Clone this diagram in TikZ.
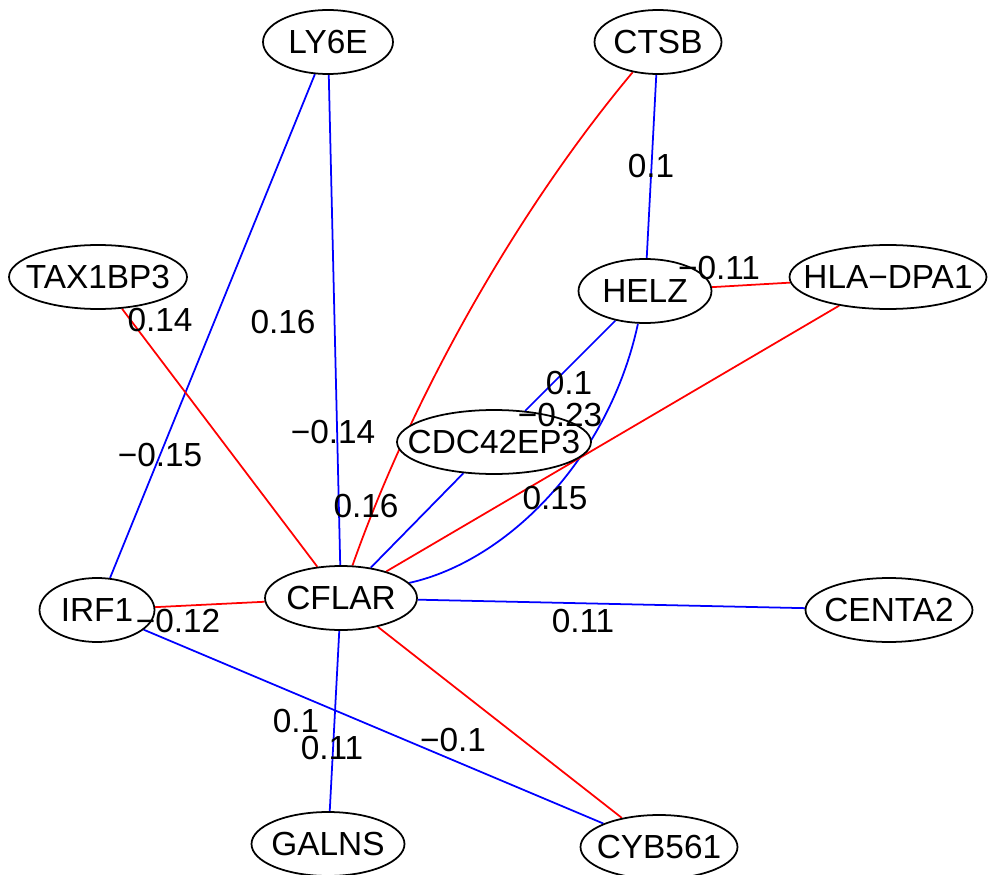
\documentclass[tikz,border=0pt]{standalone}
\usepackage{fontspec}
\setmainfont{Liberation Sans}
\usetikzlibrary{shapes.geometric}
\pgfdeclarelayer{edges}
\pgfsetlayers{edges,main}
\newcommand{\gname}[1]{\makebox[0pt]{#1}}

\begin{document}
\begin{tikzpicture}[
    x=0.02cm, y=-0.02cm,
    gene/.style = {
        ellipse,
        draw,
        fill = white,
        line width = 1pt,
        inner sep = 0pt,
        minimum height = 1.28cm,
        font = \fontsize{19}{23}\selectfont
    },
    wt/.style = {
        inner sep = 0pt,
        font = \fontsize{19}{23}\selectfont
    },
    poslink/.style = {draw = blue, line width = 1pt},
    neglink/.style = {draw = red, line width = 1pt}
]
\useasboundingbox (0,0) rectangle (988,875);

% genes
\node[gene, minimum width = 2.6cm]  (LY6E)     at (328,42)  {\gname{LY6E}};
\node[gene, minimum width = 2.54cm] (CTSB)     at (658,42)  {\gname{CTSB}};
\node[gene, minimum width = 3.56cm] (TAX1BP3)  at (98,277)  {\gname{TAX1BP3}};
\node[gene, minimum width = 2.66cm] (HELZ)     at (645,291) {\gname{HELZ}};
\node[gene, minimum width = 3.94cm] (HLADPA1)  at (888,277) {\gname{HLA−DPA1}};
\node[gene, minimum width = 3.88cm] (CDC42EP3) at (494,442) {\gname{CDC42EP3}};
\node[gene, minimum width = 2.3cm]  (IRF1)     at (97,610)  {\gname{IRF1}};
\node[gene, minimum width = 3.04cm] (CFLAR)    at (341,598) {\gname{CFLAR}};
\node[gene, minimum width = 3.34cm] (CENTA2)   at (889,610) {\gname{CENTA2}};
\node[gene, minimum width = 3.06cm] (GALNS)    at (328,844) {\gname{GALNS}};
\node[gene, minimum width = 3.14cm] (CYB561)   at (659,847) {\gname{CYB561}};

% links
\begin{pgfonlayer}{edges}
\draw[poslink] (LY6E) -- (IRF1);
\draw[poslink] (LY6E) -- (CFLAR);
\draw[neglink] (CTSB) .. controls (519,208) and (413,394) .. (CFLAR);
\draw[poslink] (CTSB) -- (HELZ);
\draw[neglink] (TAX1BP3) -- (CFLAR);
\draw[neglink] (HELZ) -- (HLADPA1);
\draw[poslink] (HELZ) -- (CDC42EP3);
\draw[poslink] (HELZ) .. controls (609,458) and (508,561) .. (CFLAR);
\draw[neglink] (HLADPA1) -- (CFLAR);
\draw[poslink] (CDC42EP3) -- (CFLAR);
\draw[neglink] (IRF1) -- (CFLAR);
\draw[poslink] (IRF1) -- (CYB561);
\draw[poslink] (CFLAR) -- (CENTA2);
\draw[poslink] (CFLAR) -- (GALNS);
\draw[neglink] (CFLAR) -- (CYB561);
\end{pgfonlayer}

% weights
\node[wt] (w1)  at (160,320) {0.14};
\node[wt] (w2)  at (283,322) {0.16};
\node[wt] (w3)  at (160,455) {−0.15};
\node[wt] (w4)  at (333,432) {−0.14};
\node[wt] (w5)  at (366,506) {0.16};
\node[wt] (w6)  at (651,166) {0.1};
\node[wt] (w7)  at (719,268) {−0.11};
\node[wt] (w8)  at (569,383) {0.1};
\node[wt] (w9)  at (560,415) {−0.23};
\node[wt] (w10) at (555,498) {0.15};
\node[wt] (w11) at (178,621) {−0.12};
\node[wt] (w12) at (583,621) {0.11};
\node[wt] (w13) at (296,721) {0.1};
\node[wt] (w14) at (332,748) {0.11};
\node[wt] (w15) at (453,740) {−0.1};
\end{tikzpicture}
\end{document}
